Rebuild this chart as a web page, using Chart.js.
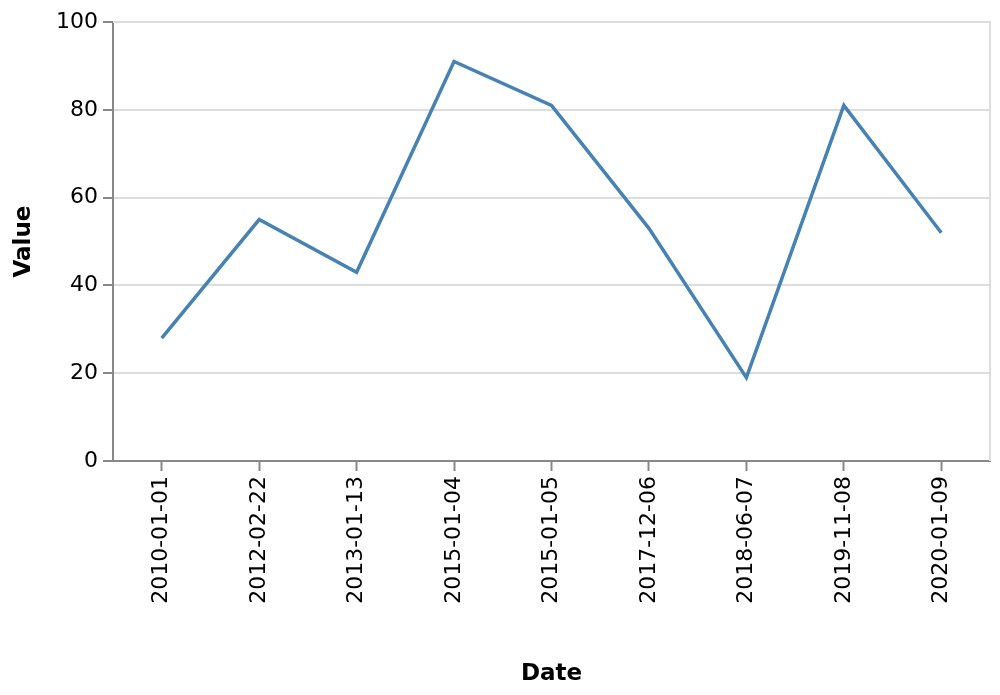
<!DOCTYPE html>
<html>
<head>
<meta charset="utf-8">
<script src="https://cdn.jsdelivr.net/npm/chart.js@4"></script>
<style>
  body { margin: 0; background: #fff; }
</style>
</head>
<body>
<canvas id="chartjs-0" width="1000" height="695"></canvas>
<script>
"use strict";

// data
let dates = ["2010-01-01", "2012-02-22", "2013-01-13", "2015-01-04", "2015-01-05",
             "2017-12-06", "2018-06-07", "2019-11-08", "2020-01-09"];
let values = [28, 55, 43, 91, 81, 53, 19, 81, 52];
let yTicks = [0, 20, 40, 60, 80, 100];

/* light frame round the plot area (top and right edges) */
let frame = {
    id: "frame",
    beforeDatasetsDraw(chart) {
        let a = chart.chartArea;
        let ctx = chart.ctx;
        ctx.save();
        ctx.strokeStyle = "#dddddd";
        ctx.lineWidth = 2;
        ctx.beginPath();
        ctx.moveTo(a.left, a.top);
        ctx.lineTo(a.right, a.top);
        ctx.lineTo(a.right, a.bottom);
        ctx.stroke();
        ctx.restore();
    }
};

let ctx0 = document.getElementById("chartjs-0");
let myChart0 = new Chart(ctx0, {
    type: "line",
    data: {
        labels: dates,
        datasets: [{
            label: "Value",
            data: values,
            fill: false,
            borderColor: "#4682b4",
            borderWidth: 3.5,
            pointRadius: 0,
            tension: 0
        }]
    },
    plugins: [frame],
    options: {
        responsive: false,
        animation: false,
        layout: { padding: { left: 0, right: 10, top: 22, bottom: 0 } },
        plugins: { legend: { display: false }, tooltip: { enabled: false } },
        scales: {
            x: {
                type: "category",
                offset: true,
                afterFit: function (scale) { scale.height = 234; },
                grid: { drawOnChartArea: false, tickColor: "#888888", tickWidth: 2, tickLength: 10 },
                border: { color: "#888888", width: 2 },
                ticks: {
                    color: "#000000",
                    minRotation: 90,
                    maxRotation: 90,
                    padding: 5,
                    font: { family: "DejaVu Sans", size: 22 }
                },
                title: {
                    display: true,
                    text: "Date",
                    color: "#000000",
                    padding: { top: 0, bottom: 7 },
                    font: { family: "DejaVu Sans", size: 23, weight: "bold" }
                }
            },
            y: {
                min: 0,
                max: 100,
                afterFit: function (scale) { scale.width = 113; },
                afterBuildTicks: function (scale) {
                    scale.ticks = yTicks.map(function (v) { return { value: v }; });
                },
                grid: { color: "#dddddd", lineWidth: 2, tickColor: "#888888", tickWidth: 2, tickLength: 10 },
                border: { color: "#888888", width: 2 },
                ticks: {
                    color: "#000000",
                    padding: 5,
                    font: { family: "DejaVu Sans", size: 22 }
                },
                title: {
                    display: true,
                    text: "Value",
                    color: "#000000",
                    padding: { top: 10, bottom: 0 },
                    font: { family: "DejaVu Sans", size: 23, weight: "bold" }
                }
            }
        }
    }
});
</script>
</body>
</html>
